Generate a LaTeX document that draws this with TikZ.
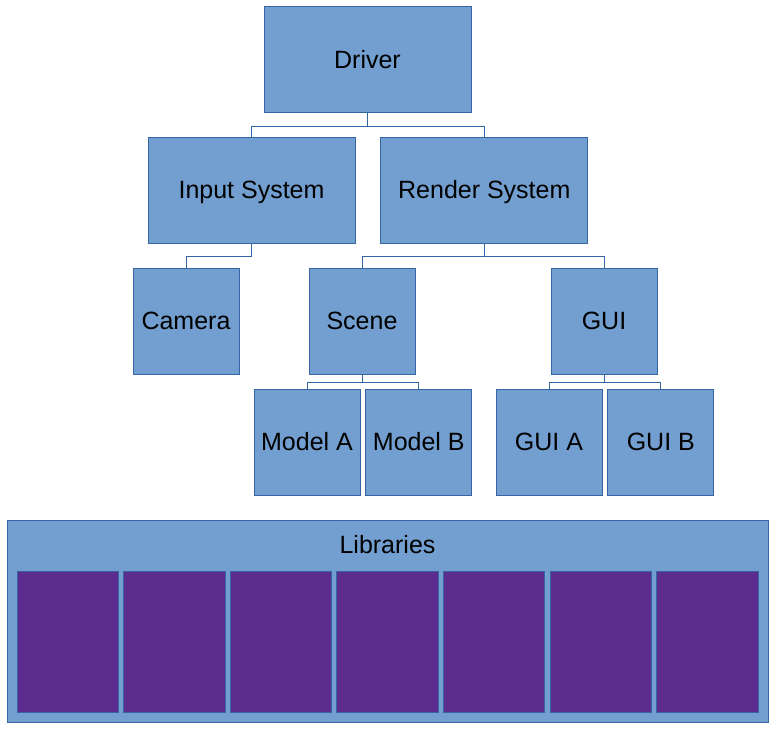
\documentclass[tikz,border=0pt]{standalone}
\usepackage{fontspec}
\setmainfont{Liberation Sans}
\usetikzlibrary{positioning}
\definecolor{boxblue}{HTML}{729FCF}
\definecolor{boxline}{HTML}{3465A4}
\definecolor{libpurple}{RGB}{92,45,142}
\tikzset{
	box/.style={draw=boxline, fill=boxblue, inner sep=0pt, line width=0.8pt,
		minimum width=207pt, minimum height=106pt,
		text height=17.9pt, text depth=0pt,
		font=\fontsize{25}{29}\selectfont},
	smallbox/.style={box, minimum width=106pt},
	lib/.style={draw=boxline, fill=libpurple, inner sep=0pt, line width=0.8pt,
		minimum width=101.5pt, minimum height=141pt},
	wire/.style={draw=boxline, line width=0.8pt}
}
\begin{document}
\begin{tikzpicture}[x=1pt, y=-1pt]
	\useasboundingbox (0,0) rectangle (772,732);
	
	\node[box]      (driver) at (367.5,59.5) {Driver};
	\node[box]      (input)  at (251.5,190)  {Input System};
	\node[box]      (render) [right=25pt of input] {Render System};
	\node[smallbox] (camera) at (186,321)    {Camera};
	\node[smallbox] (scene)  at (362,321)    {Scene};
	\node[smallbox] (gui)    at (604,321)    {GUI};
	\node[smallbox] (modelA) at (307,442)    {Model A};
	\node[smallbox] (modelB) [right=5pt of modelA] {Model B};
	\node[smallbox] (guiA)   at (549,442)    {GUI A};
	\node[smallbox] (guiB)   [right=5pt of guiA] {GUI B};
	
	% libraries block
	\node[draw=boxline, fill=boxblue, line width=0.8pt, inner sep=0pt,
		minimum width=761pt, minimum height=202pt] (libs) at (387.5,621) {};
	\node[font=\fontsize{25}{29}\selectfont, text height=17.9pt, text depth=0pt,
		inner sep=0pt] (libtitle) at (387.5,545) {Libraries};
	\foreach \i in {0,...,6}
		\node[lib] (lib\i) at ({67.8+\i*106.57},641.5) {};
	
	\path[wire]
	(driver.south) -- ++(0,13) -| (input.north)
	(driver.south) -- ++(0,13) -| (render.north)
	(input.south)  -- ++(0,13) -| (camera.north)
	(render.south) -- ++(0,13) -| (scene.north)
	(render.south) -- ++(0,13) -| (gui.north)
	(scene.south)  -- ++(0,8)  -| (modelA.north)
	(scene.south)  -- ++(0,8)  -| (modelB.north)
	(gui.south)    -- ++(0,8)  -| (guiA.north)
	(gui.south)    -- ++(0,8)  -| (guiB.north);
\end{tikzpicture}
\end{document}
